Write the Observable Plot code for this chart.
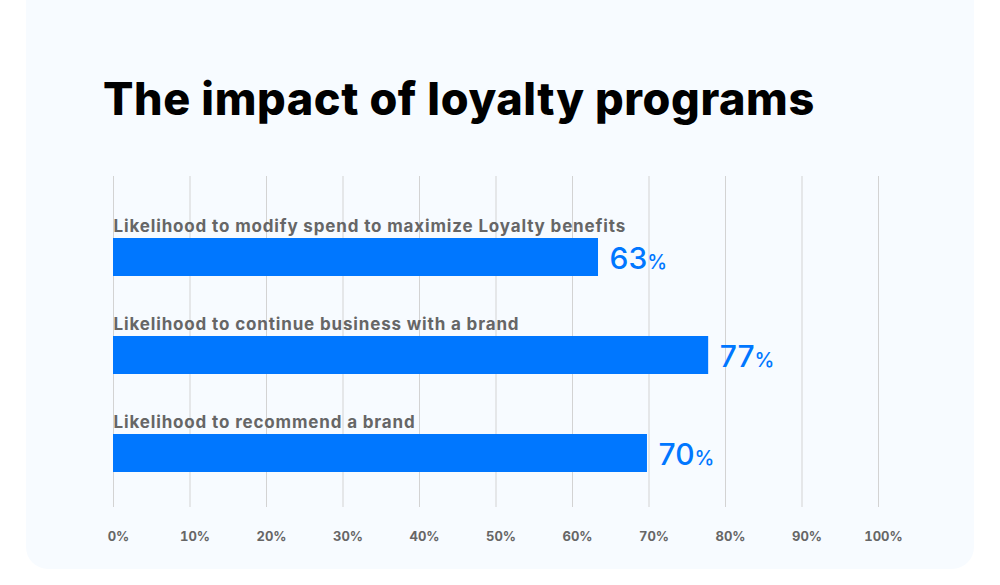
<!DOCTYPE html>
<html><head><meta charset="utf-8">
<script src="https://cdn.jsdelivr.net/npm/d3@7"></script>
<script src="https://cdn.jsdelivr.net/npm/@observablehq/plot@0.6"></script>
<style>
html,body{margin:0;padding:0;background:#fff;width:1000px;height:585px;overflow:hidden;font-family:Inter, sans-serif}
#card{position:absolute;left:26px;top:-30px;width:948px;height:599px;background:#f7fbff;border-radius:22px}
#title{position:absolute;left:103px;top:76px;font-size:45px;line-height:45px;font-weight:800;color:#000;white-space:nowrap;letter-spacing:0.6px}
#chart{position:absolute;left:0;top:150px}
</style>
</head><body>
<div id="card"></div>
<div id="title">The impact of loyalty programs</div>
<div id="chart"></div>
<script>
const categories = [
  "Likelihood to modify spend to maximize Loyalty benefits",
  "Likelihood to continue business with a brand",
  "Likelihood to recommend a brand"
];
const values = [63, 77, 70];          // printed labels
const barLengths = [63.4, 77.8, 69.8]; // bar ends as drawn
const ticks = [0, 10, 20, 30, 40, 50, 60, 70, 80, 90, 100];

const data = categories.map((c, i) => ({category: c, value: values[i], bar: barLengths[i]}));

const chart = Plot.plot({
  width: 1000, height: 420,
  marginLeft: 113, marginRight: 122, marginTop: 26, marginBottom: 63,
  style: {background: "transparent", fontFamily: "Inter, sans-serif", overflow: "visible"},
  x: {domain: [0, 100], label: null},
  y: {type: "band", domain: categories, range: [58, 352], paddingInner: 60/98, paddingOuter: 30/98, axis: null},
  marks: [
    Plot.ruleX(ticks, {stroke: "#d3d3d3", strokeWidth: 1}),
    Plot.axisX(ticks, {tickSize: 0, tickPadding: 24, label: null, tickFormat: d => d + "%", fontSize: 13, fontWeight: 700, fill: "#666", dx: 5}),
    Plot.barX(data, {x: "bar", y: "category", fill: "#0077ff"}),
    Plot.text(data, {x: 0, y: "category", text: "category", textAnchor: "start", lineAnchor: "bottom", dy: -26, fontSize: 17, fontWeight: 700, fill: "#666"}),
    Plot.text(data, {x: "bar", y: "category", text: d => d.value + "%", textAnchor: "start", lineAnchor: "bottom", dx: 11, dy: 11, fontSize: 30, fontWeight: 500, fill: "#0077ff"})
  ]
});
document.getElementById("chart").appendChild(chart);

// styling: letter spacing for category labels, smaller "%" sign in value labels
const textGroups = chart.querySelectorAll('g[aria-label="text"]');
textGroups[0].setAttribute("letter-spacing", "0.85");
textGroups[1].querySelectorAll("text").forEach(t => {
  const s = t.textContent;
  const num = s.replace("%", "");
  t.textContent = num;
  const ts = document.createElementNS("http://www.w3.org/2000/svg", "tspan");
  ts.setAttribute("font-size", "20");
  ts.setAttribute("dx", "0");
  ts.textContent = "%";
  t.appendChild(ts);
});
</script>
</body></html>
